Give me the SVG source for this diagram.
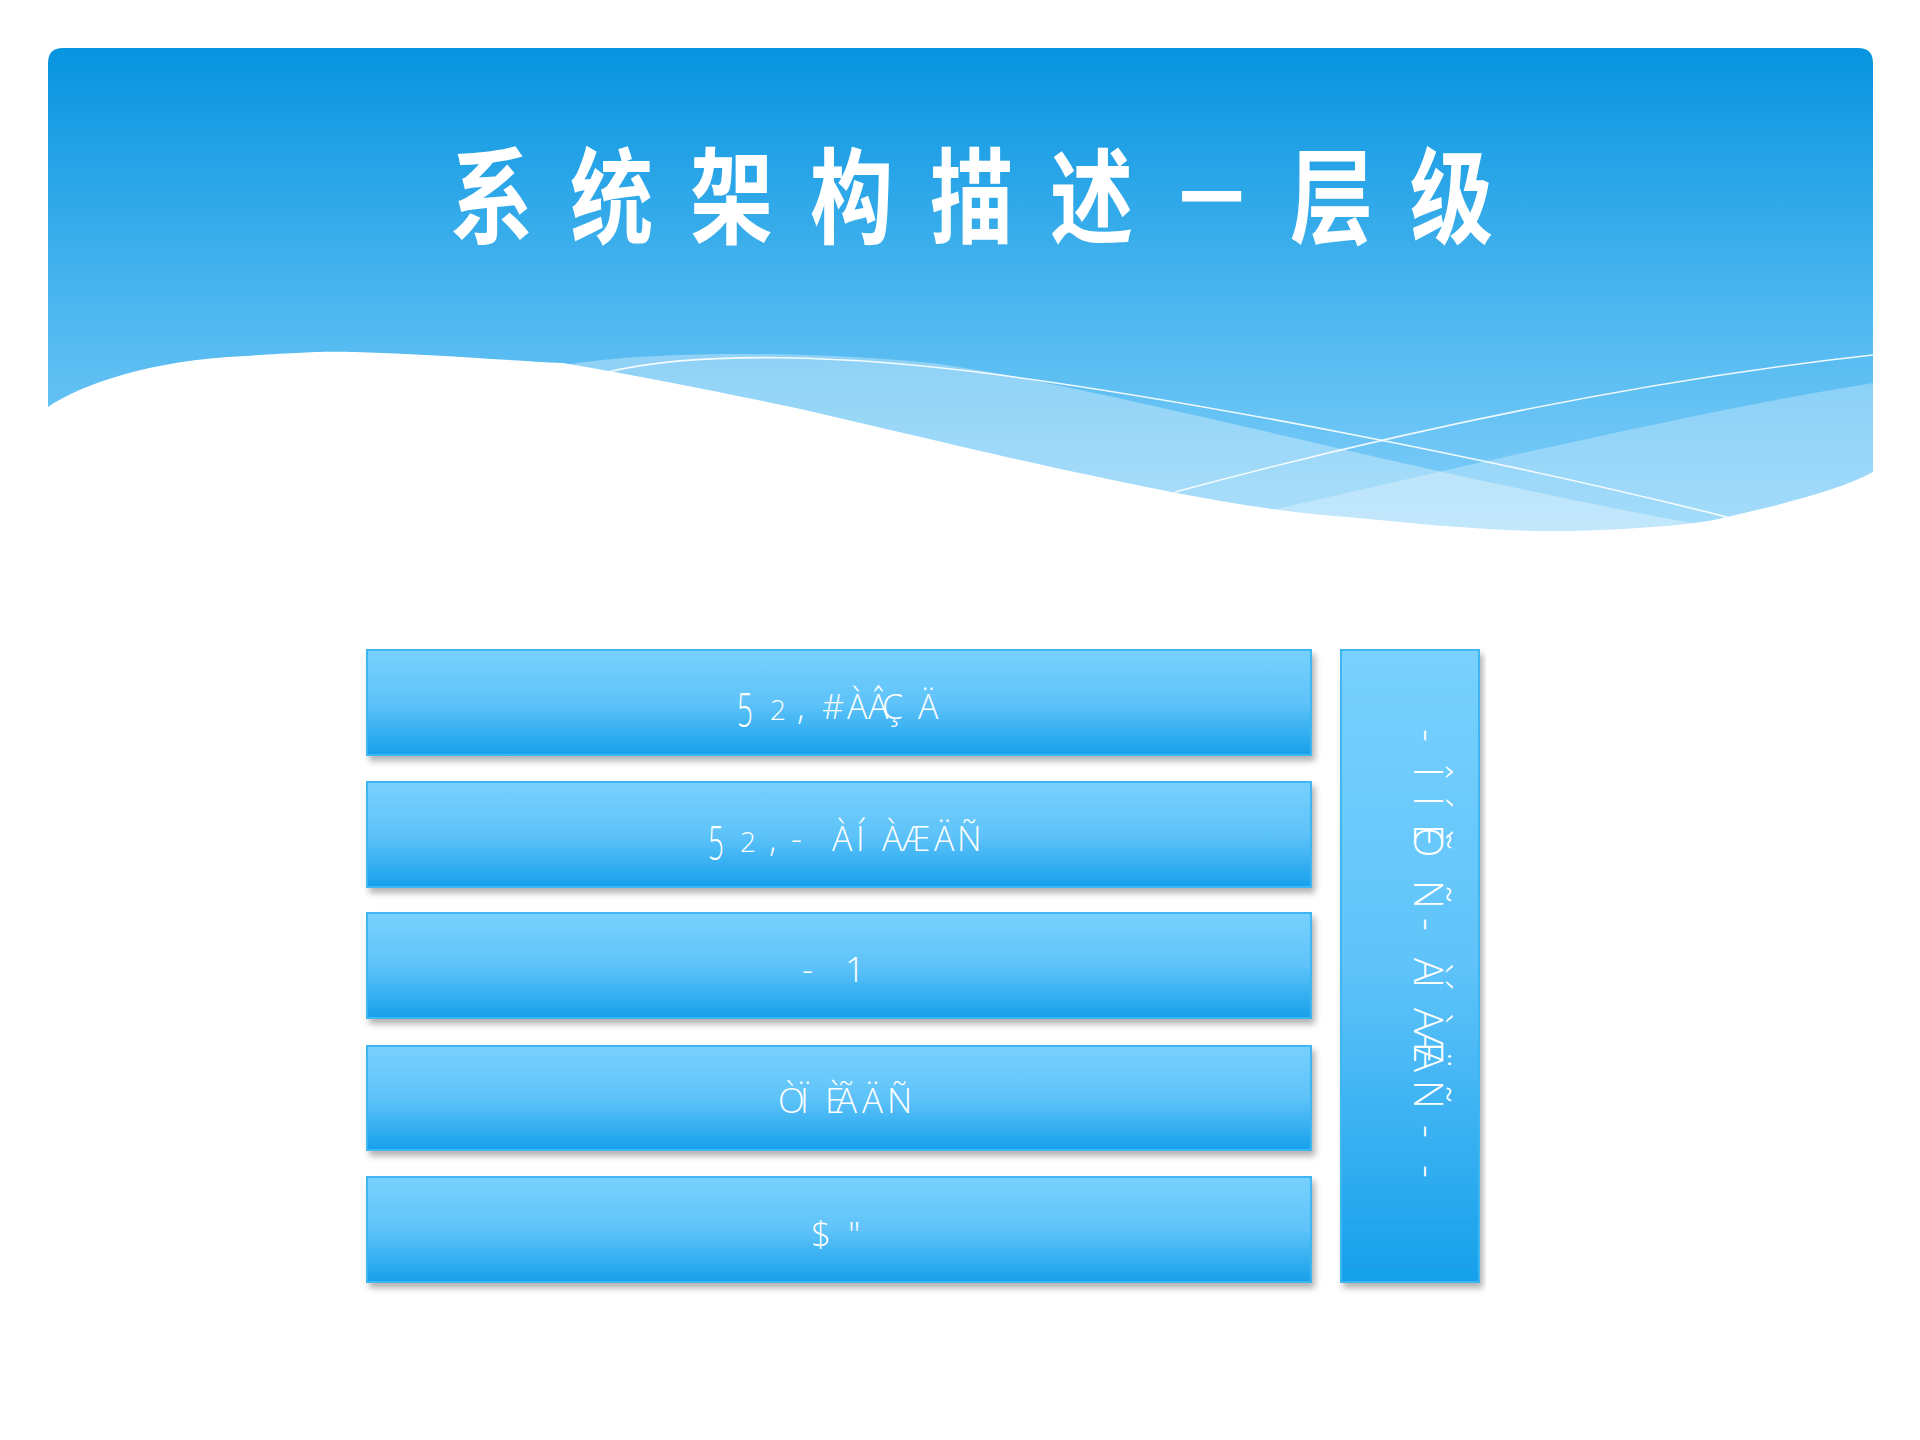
<svg xmlns="http://www.w3.org/2000/svg" width="1920" height="1440" viewBox="0 0 1920 1440">
<defs>
<linearGradient id="hdr" x1="0" y1="48" x2="0" y2="540" gradientUnits="userSpaceOnUse">
<stop offset="0" stop-color="#0794e0"/>
<stop offset="0.55" stop-color="#4fb8f0"/>
<stop offset="1" stop-color="#85d0fa"/>
</linearGradient>
<linearGradient id="box" x1="0" y1="0" x2="0" y2="1">
<stop offset="0" stop-color="#78d1fe"/>
<stop offset="0.5" stop-color="#5fc3f9"/>
<stop offset="1" stop-color="#16a0eb"/>
</linearGradient>
<clipPath id="hclip">
<path d="M48,63 Q48,48 63,48 H1858 Q1873,48 1873,63 V560 H48 Z"/>
</clipPath>
<filter id="sh" x="-5%" y="-10%" width="110%" height="130%">
<feDropShadow dx="3" dy="5" stdDeviation="3" flood-color="#000" flood-opacity="0.3"/>
</filter>
</defs>
<style>
.bx{fill:url(#box);stroke:#3cb6f1;stroke-width:2;filter:url(#sh)}
.lb{font-family:"Open Sans","Noto Sans",sans-serif;font-weight:300;font-size:34px;fill:#fff}
.ttl{font-family:"Noto Sans CJK SC",sans-serif;font-weight:700;font-size:104px;fill:#fff;letter-spacing:46px}
.wl{fill:none;stroke:#fff;stroke-width:1.6;opacity:0.9}
</style>
<rect width="1920" height="1440" fill="#fff"/>
<g id="header">
<g clip-path="url(#hclip)">
<rect x="48" y="48" width="1825" height="512" fill="url(#hdr)"/>
<path d="M540,370 C620,350 800,350 931,363 C1100,385 1400,470 1702,525 L1702,570 L540,570 Z" fill="#fff" opacity="0.33"/>
<path d="M1873,383 C1700,410 1450,470 1250,515 L1250,570 L1873,570 Z" fill="#fff" opacity="0.28"/>
<path class="wl" d="M608,372 C700,350 850,355 1000,375 C1200,402 1500,460 1727,517"/>
<path class="wl" d="M1175,492 C1350,445 1600,385 1873,355"/>
<path d="M48,407 C80,385 150,360 245,356 C300,352 330,351 355,352 C430,354 500,360 563,363 C650,378 720,392 796,408 C900,432 1000,456 1065,470 C1150,488 1250,510 1347,517 C1430,525 1500,532 1567,531 C1640,530 1700,523 1714,520 C1780,505 1840,490 1873,472 L1880,600 L40,600 Z" fill="#fff"/>
</g>
<text class="ttl" transform="translate(450,236) scale(0.8,1)">系统架构描述－层级</text>
</g>
<g id="connectors"></g>
<g id="n1"><rect class="bx" x="367" y="650" width="944" height="105"/>
<text class="lb" style="font-size:37px" transform="translate(737,727) scale(0.75,1.3)">5</text>
<text class="lb" style="font-size:28px" x="770" y="720">2</text>
<text class="lb" x="797 822 847 868 882 918" y="719">,#ÀÂÇÄ</text></g>
<g id="n2"><rect class="bx" x="367" y="782" width="944" height="105"/>
<text class="lb" style="font-size:37px" transform="translate(708,860) scale(0.75,1.3)">5</text>
<text class="lb" style="font-size:28px" x="740" y="852">2</text>
<text class="lb" x="769 791 832 856 882 902 934 957" y="851">,-ÀÍÀÆÄÑ</text></g>
<g id="n3"><rect class="bx" x="367" y="913" width="944" height="105"/><text class="lb" style="font-size:35px" x="802 845" y="982">-1</text></g>
<g id="n4"><rect class="bx" x="367" y="1046" width="944" height="104"/><text class="lb" style="font-size:35px" x="778 800 825 836 862 887" y="1113">ÒÏÈÃÄÑ</text></g>
<g id="n5"><rect class="bx" x="367" y="1177" width="944" height="105"/><text class="lb" style="font-size:35px" x="811 848" y="1247">$"</text></g>
<g id="side"><rect class="bx" x="1341" y="650" width="138" height="632"/><text class="lb" style="font-size:40px" transform="translate(1414,726) rotate(90)" x="3 41 70 98 101 154 192 232 252 282 304 322 354 399 439" y="0">-ÎÍÈÕÑ-ÀÍÀÆÄÑ--</text></g>
</svg>
